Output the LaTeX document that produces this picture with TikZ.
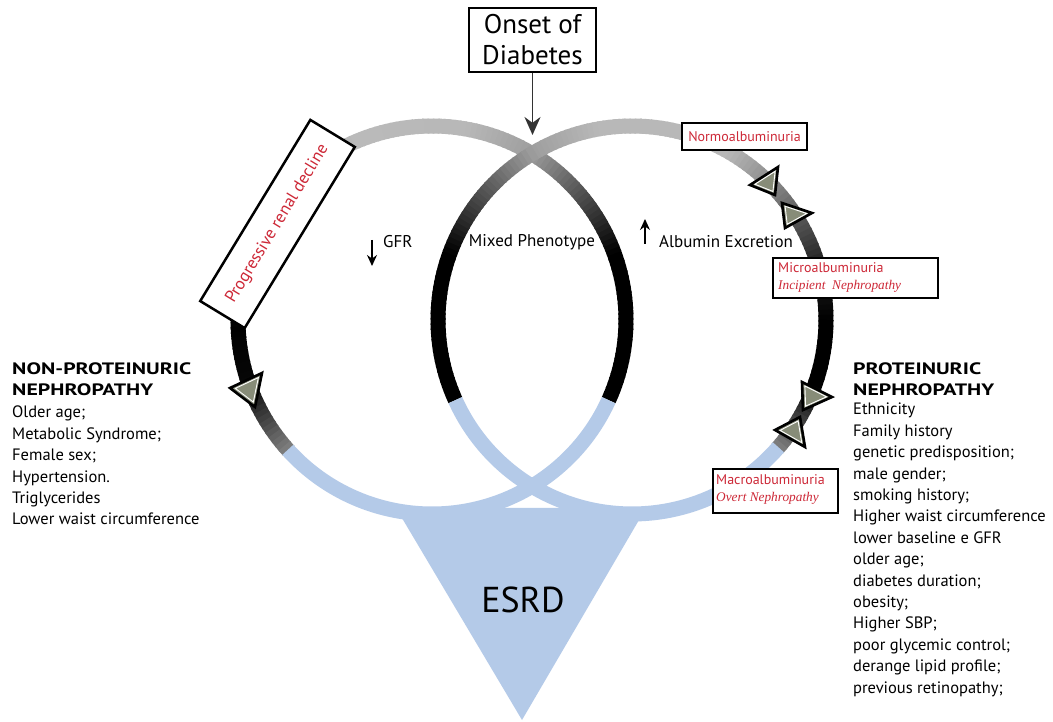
\documentclass[tikz,border=0pt]{standalone}
\usepackage{fontspec}
\setmainfont{PT Sans}
\newfontfamily\rsserif{Liberation Serif}
\usetikzlibrary{arrows.meta,calc}
\definecolor{ringblue}{RGB}{180,202,232}
\definecolor{rsred}{RGB}{205,40,55}
\definecolor{trigray}{RGB}{135,140,120}
\tikzset{
  ring/.style={line width=15pt},
  lst/.style={anchor=base west, inner sep=0pt, font=\fontsize{16.5}{20}\selectfont},
  lsthead/.style={lst, font=\fontsize{16.5}{20}\selectfont\bfseries},
  redtxt/.style={anchor=base west, inner sep=0pt, text=rsred, font=\fontsize{14}{16}\selectfont},
  reditl/.style={anchor=base west, inner sep=0pt, text=rsred, font=\fontsize{13.3}{16}\selectfont\rsserif\itshape},
  labbox/.style={draw=black, fill=white, line width=2pt, inner sep=0pt},
  midlab/.style={inner sep=0pt, font=\fontsize{17}{20}\selectfont},
  thinarrow/.style={line width=1.4pt, -{Stealth[length=11pt,width=10pt]}},
}
\newcommand{\wide}[1]{\scalebox{1.32}[1]{#1}}
\newcommand{\ringseg}[7]{%
  \pgfmathtruncatemacro{\rsN}{max(1,abs(#5-#4)/1.5)}%
  \foreach \rsI in {1,...,\rsN}{%
    \pgfmathsetmacro{\rsA}{#4+(#5-#4)*(\rsI-1)/\rsN}%
    \pgfmathsetmacro{\rsB}{#4+(#5-#4)*\rsI/\rsN+0.5*sign(#5-#4)}%
    \pgfmathsetmacro{\rsP}{#6+(#7-#6)*(\rsI-0.5)/\rsN}%
    \draw[ring, draw=black!\rsP] ([shift={(\rsA:#3)}]#1,#2) arc[start angle=\rsA, end angle=\rsB, radius=#3];
  }}
\newcommand{\marktri}[4]{% name, A, B, C
  \coordinate (#1a) at #2; \coordinate (#1b) at #3; \coordinate (#1c) at #4;
  \coordinate (#1g) at (barycentric cs:#1a=1,#1b=1,#1c=1);
  \filldraw[fill=trigray, draw=black, line width=2.6pt, line join=miter] (#1a) -- (#1b) -- (#1c) -- cycle;
  \draw[white, line width=0.9pt, line join=miter] ($(#1a)!0.28!(#1g)$) -- ($(#1b)!0.28!(#1g)$) -- ($(#1c)!0.28!(#1g)$) -- cycle;
}
\begin{document}
\begin{tikzpicture}[x=1pt,y=1pt]
\useasboundingbox (0,0) rectangle (1053,721);
\fill[white] (0,0) rectangle (1053,721);

% ESRD triangle
\fill[ringblue] (396,213) -- (646,213) -- (522,1) -- cycle;

% left ring
\ringseg{432}{401}{194}{59.5}{80}{38}{28}
\ringseg{432}{401}{194}{80}{114}{28}{27}
\ringseg{432}{401}{194}{114}{182}{27}{100}
\ringseg{432}{401}{194}{182}{200}{100}{97}
\ringseg{432}{401}{194}{200}{222}{97}{50}
\ringseg{432}{401}{194}{335.6}{380}{100}{100}
\ringseg{432}{401}{194}{380}{419.5}{100}{38}
% right ring
\ringseg{632}{401}{194}{120.5}{100}{38}{28}
\ringseg{632}{401}{194}{100}{60}{28}{28}
\ringseg{632}{401}{194}{60}{43}{28}{48}
\ringseg{632}{401}{194}{43}{18}{48}{85}
\ringseg{632}{401}{194}{18}{0}{85}{100}
\ringseg{632}{401}{194}{0}{-20}{100}{100}
\ringseg{632}{401}{194}{-20}{-41}{100}{50}
\ringseg{632}{401}{194}{204.4}{160}{100}{100}
\ringseg{632}{401}{194}{160}{120.5}{100}{38}
% blue parts
\draw[ring, ringblue] ([shift={(222:194)}]432,401) arc[start angle=222, end angle=335.6, radius=194];
\draw[ring, ringblue] ([shift={(-155.6:194)}]632,401) arc[start angle=-155.6, end angle=-41, radius=194];

% arrow markers on rings
\marktri{ta}{(230,333)}{(262,348)}{(255,314)}
\marktri{tb}{(750,536)}{(778,554)}{(775,526)}
\marktri{tc}{(812,508)}{(782,518)}{(785,493)}
\marktri{td}{(832,324)}{(802,339)}{(803,311)}
\marktri{te}{(775,291)}{(800,304)}{(805,274)}

% Onset box and arrow
\node[draw, line width=2.5pt, minimum width=127pt, minimum height=64pt, inner sep=0pt, align=center, font=\fontsize{27}{31}\selectfont] (onset) at (532.5,681) {Onset of\\Diabetes};
\coordinate (topx) at (532.5,586);
\draw[line width=1.6pt, draw=black!80, -{Stealth[length=18pt,width=16pt]}] (onset.south) -- (topx);

% Progressive renal decline
\node[draw, fill=white, line width=2.5pt, rotate=58.7, minimum width=212pt, minimum height=52pt, inner sep=0pt, text=rsred, font=\fontsize{17}{20}\selectfont] (prog) at (277.5,497) {Progressive renal decline};

% Normoalbuminuria
\node[labbox, minimum width=125pt, minimum height=27pt, text=rsred, font=\fontsize{14}{16}\selectfont] (normo) at (744.5,584.5) {Normoalbuminuria};
% Microalbuminuria
\node[labbox, minimum width=165pt, minimum height=40pt] (micro) at (855.5,443) {};
\node[redtxt] (microt) at (778,448) {Microalbuminuria};
\node[reditl] (microi) at (778,431) {Incipient\ \ Nephropathy};
% Macroalbuminuria
\node[labbox, minimum width=125pt, minimum height=44pt] (macro) at (775.5,230) {};
\node[redtxt] (macrot) at (716,236) {Macroalbuminuria};
\node[reditl] (macroi) at (716,219) {Overt Nephropathy};

% middle labels
\coordinate (gfrs) at (372,481);
\coordinate (gfre) at (372,455);
\draw[thinarrow] (gfrs) -- (gfre);
\node[midlab, anchor=west] (gfr) at (383,479) {GFR};
\node[midlab] (mixed) at (532,479) {Mixed Phenotype};
\coordinate (albs) at (645,477);
\coordinate (albe) at (645,502);
\draw[thinarrow] (albs) -- (albe);
\node[midlab, anchor=west] (alb) at (659,479) {Albumin Excretion};

% ESRD
\node[font=\fontsize{36}{40}\selectfont, inner sep=0pt] (esrd) at (523,121) {ESRD};

% left list
\node[lsthead] (lh1) at (12,346) {\wide{NON-PROTEINURIC}};
\node[lsthead] (lh2) at (12,325) {\wide{NEPHROPATHY}};
\foreach \t [count=\i from 0] in {Older age;, Metabolic Syndrome;, Female sex;, Hypertension., Triglycerides, Lower waist circumference}
  \node[lst] (l\i) at (12,{303-21.4*\i}) {\t};

% right list
\node[lsthead] (rh1) at (853,346) {\wide{PROTEINURIC}};
\node[lsthead] (rh2) at (853,325) {\wide{NEPHROPATHY}};
\foreach \t [count=\i from 0] in {Ethnicity, Family history, genetic predisposition;, male gender;, smoking history;, Higher waist circumference, lower baseline e GFR, older age;, diabetes duration;, obesity;, Higher SBP;, poor glycemic control;, derange lipid profile;, previous retinopathy;}
  \node[lst] (r\i) at (853,{306-21.4*\i}) {\t};
\end{tikzpicture}
\end{document}
